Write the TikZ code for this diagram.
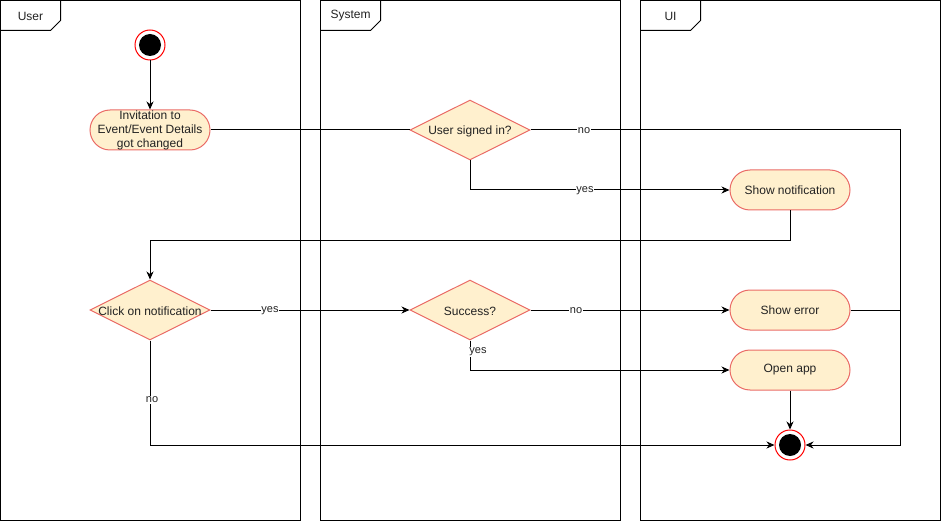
\documentclass[tikz,border=0pt]{standalone}
\usepackage{fontspec}
\setmainfont{Liberation Sans}
\usetikzlibrary{arrows.meta,shapes.geometric}

\definecolor{actfill}{HTML}{FFF0CE}
\definecolor{actline}{HTML}{EA6B66}
\definecolor{txt}{HTML}{222222}

\tikzset{
  lane/.style={draw=black, line width=1pt},
  lanetitle/.style={font=\fontsize{12}{14}\selectfont, text=txt, inner sep=0pt},
  action/.style={draw=actline, fill=actfill, line width=1pt, rectangle,
    rounded corners=20pt, minimum width=120pt, minimum height=40pt,
    inner sep=0pt, align=center, text=txt,
    font=\fontsize{12}{14}\selectfont},
  decision/.style={draw=actline, fill=actfill, line width=1pt, diamond,
    minimum width=120pt, minimum height=60pt, inner sep=0pt},
  dtext/.style={text=txt, font=\fontsize{12}{14}\selectfont, inner sep=0pt,
    yshift=-1pt},
  pseudo/.style={circle, draw=red, fill=white, line width=1pt,
    minimum size=30pt, inner sep=0pt,
    path picture={\fill[black] (path picture bounding box.center) circle (11pt);}},
  flow/.style={draw=black, line width=1pt},
  arr/.style={flow, -{Stealth[length=8pt,width=7pt,inset=2.5pt]}},
  lbl/.style={fill=white, text=txt, inner sep=0.5pt,
    font=\fontsize{11}{13}\selectfont}
}

\begin{document}
\begin{tikzpicture}[x=1pt, y=-1pt]
  \useasboundingbox (0,0) rectangle (941,521);

  % swimlane frames with name tabs
  \foreach \x/\t in {0.5/User, 320.5/System, 640.5/UI} {
    \draw[lane] (\x,0.5) rectangle (\x+300,520.5);
    \draw[lane] (\x,30.5) -- (\x+50,30.5) -- (\x+60,20.5) -- (\x+60,0.5);
    \node[lanetitle] at (\x+30,16) {\t};
  }

  % nodes
  \node[pseudo] (start) at (150,45) {};
  \node[action] (invite) at (150,130) {Invitation to\\Event/Event Details\\got changed};
  \node[decision, label={[dtext]center:User signed in?}] (signed) at (470,130) {};
  \node[action] (notif) at (790,190) {\raisebox{-1pt}{Show notification}};
  \node[decision, label={[dtext]center:Click on notification}] (click) at (150,310) {};
  \node[decision, label={[dtext]center:Success?}] (succ) at (470,310) {};
  \node[action] (err) at (790,310) {\raisebox{-1pt}{Show error}};
  \node[action] (open) at (790,370) {\raisebox{-1pt}{Open app}};
  \node[pseudo] (end) at (790,445) {};

  \coordinate (rail) at (900,130);
  \coordinate (turn) at (150,240);

  % connectors
  \draw[arr] (start) -- (invite);
  \draw[flow] (invite.east) -- (signed.west);
  \draw[arr] (signed.east) -- (rail) |- (end.east);
  \draw[arr] (signed.south) |- (notif.west);
  \draw[arr] (notif.south) |- (turn) -- (click.north);
  \draw[arr] (click.east) -- (succ.west);
  \draw[arr] (click.south) |- (end.west);
  \draw[arr] (succ.east) -- (err.west);
  \draw[arr] (succ.south) |- (open.west);
  \draw[flow] (err.east) -- (err.east -| rail);
  \draw[arr] (open) -- (end);

  % connector labels
  \node[lbl] (lno1) at (584,131) {no};
  \node[lbl] (lyes1) at (585,191) {yes};
  \node[lbl] (lyes2) at (270,311) {yes};
  \node[lbl] (lno2) at (576,311) {no};
  \node[lbl] (lyes3) at (478,352) {yes};
  \node[lbl] (lno3) at (152,400) {no};
\end{tikzpicture}
\end{document}
